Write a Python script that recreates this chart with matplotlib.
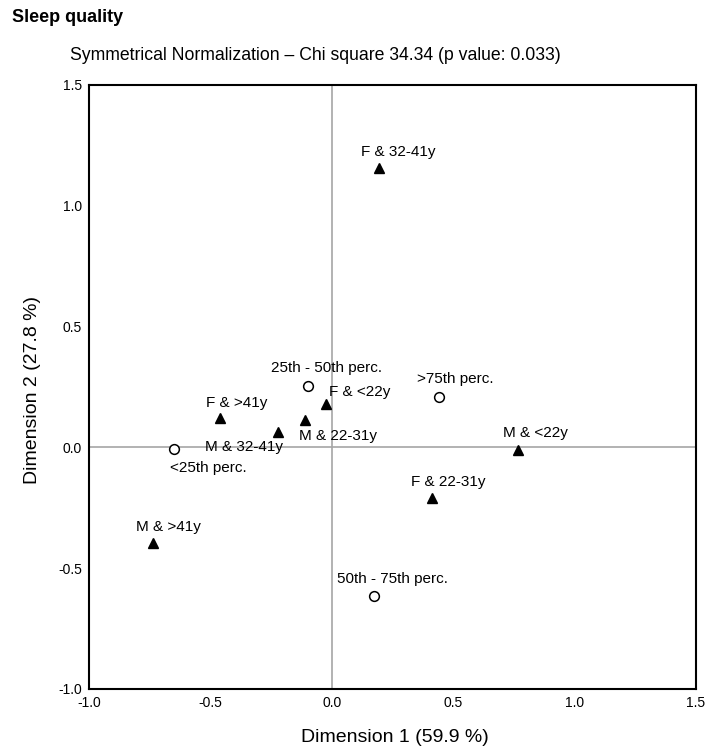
import matplotlib
matplotlib.use("Agg")
import matplotlib.pyplot as plt

plt.rcParams['font.family'] = ['Liberation Sans', 'DejaVu Sans']

# row categories (sleep quality percentiles) - open circles
row_labels = ['<25th perc.', '25th - 50th perc.', '50th - 75th perc.', '>75th perc.']
row_x = [-0.65, -0.097, 0.174, 0.44]
row_y = [-0.008, 0.255, -0.615, 0.21]

# column categories (sex & age) - filled triangles
col_labels = ['F & <22y', 'F & 22-31y', 'F & 32-41y', 'F & >41y',
              'M & <22y', 'M & 22-31y', 'M & 32-41y', 'M & >41y']
col_x = [-0.025, 0.414, 0.194, -0.46, 0.767, -0.11, -0.22, -0.738]
col_y = [0.18, -0.211, 1.157, 0.12, -0.011, 0.113, 0.065, -0.394]

ticks = [-1.0, -0.5, 0.0, 0.5, 1.0, 1.5]

# label placement (pixels from the marker)
offsets = {
    '<25th perc.': (34, -19), '25th - 50th perc.': (18, 18),
    '50th - 75th perc.': (18, 17), '>75th perc.': (17, 18),
    'F & <22y': (34, 12), 'F & 22-31y': (16, 16), 'F & 32-41y': (19, 16),
    'F & >41y': (17, 15), 'M & <22y': (17, 17), 'M & 22-31y': (33, -16),
    'M & 32-41y': (-34, -15), 'M & >41y': (16, 16),
}

fig = plt.figure(figsize=(7.08, 7.56), dpi=100)
ax = fig.add_axes([89/708, 1 - 689/756, 607/708, 604/756])

ax.axhline(0, color='#a6a6a6', lw=1.2, zorder=1)
ax.axvline(0, color='#a6a6a6', lw=1.2, zorder=1)

ax.plot(row_x, row_y, 'o', ms=7, mfc='white', mec='black', mew=1.1, ls='none', zorder=3)
ax.plot(col_x, col_y, '^', ms=7, color='black', ls='none', zorder=3)

for lab, x, y in zip(row_labels + col_labels, row_x + col_x, row_y + col_y):
    ax.annotate(lab, (x, y), xytext=offsets[lab], textcoords='offset pixels',
                ha='center', va='center', fontsize=11)

ax.set_xlim(-1.0, 1.5)
ax.set_ylim(-1.0, 1.5)
ax.set_xticks(ticks)
ax.set_yticks(ticks)
ax.set_xticklabels([f'{t:.1f}' for t in ticks])
ax.set_yticklabels([f'{t:.1f}' for t in ticks])
ax.tick_params(length=0, labelsize=10, pad=5)
for s in ax.spines.values():
    s.set_linewidth(1.5)

fig.text(12/708, 1 - 18/756, 'Sleep quality', fontsize=13, fontweight='bold',
         ha='left', va='center')
fig.text(70/708, 1 - 55/756, 'Symmetrical Normalization \u2013 Chi square 34.34 (p value: 0.033)',
         fontsize=12.7, ha='left', va='center')
fig.text(395/708, 1 - 738/756, 'Dimension 1 (59.9 %)', fontsize=14, ha='center', va='center')
fig.text(33/708, 1 - 390/756, 'Dimension 2 (27.8 %)', fontsize=14, ha='center', va='center',
         rotation=90)

fig.savefig('out.png', dpi=100)
